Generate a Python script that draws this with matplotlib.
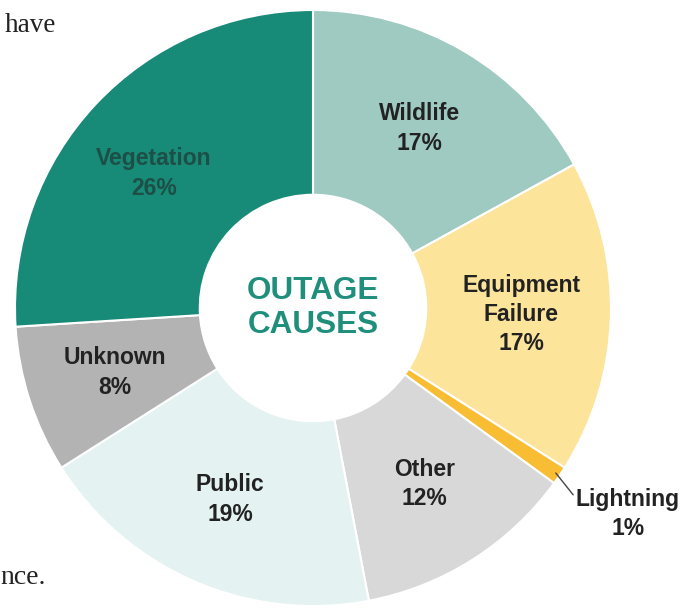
import matplotlib
matplotlib.use('Agg')
import matplotlib.pyplot as plt
import numpy as np

# data (clockwise from the top)
causes = ['Wildlife', 'Equipment\nFailure', 'Lightning', 'Other', 'Public', 'Unknown', 'Vegetation']
shares = [17, 17, 1, 12, 19, 8, 26]
colors = ['#9ecac2', '#fde49b', '#f9bd33', '#d8d8d8', '#e4f2f1', '#b3b3b3', '#178a78']
text_colors = ['#222222', '#222222', '#222222', '#222222', '#222222', '#222222', '#1d4f47']

plt.rcParams['font.family'] = ['Liberation Sans', 'DejaVu Sans']

fig = plt.figure(figsize=(6.91, 6.08), dpi=100)
ax = fig.add_axes([0, 0, 1, 1])

# donut centre at pixel (313, 308), outer radius 298 px
R = 298.0

wedges, _ = ax.pie(shares, colors=colors, startangle=90, counterclock=False,
                   radius=1.0, wedgeprops=dict(width=0.62, edgecolor='white', linewidth=1.5))
ax.set_xlim(-313 / R, (691 - 313) / R)
ax.set_ylim(-(608 - 308) / R, 308 / R)
ax.set_aspect('auto')
ax.axis('off')

total = sum(shares)
cum = 0
for name, val, tc in zip(causes, shares, text_colors):
    mid = 90 - 360 * (cum + val / 2) / total
    cum += val
    label = f'{name}\n{val}%'
    if name == 'Lightning':
        m = np.deg2rad(mid)
        ax.annotate(label, xy=(0.985 * np.cos(m), 0.985 * np.sin(m)),
                    xytext=(315 / R, -206 / R), ha='center', va='center',
                    fontsize=16.5, fontweight='bold', color=tc, linespacing=1.35,
                    arrowprops=dict(arrowstyle='-', color='#444444', lw=1,
                                    shrinkA=0, shrinkB=0, relpos=(0.0, 0.8)))
        continue
    r = 0.70
    if name == 'Vegetation':
        mid += 3   # label sits a little lower in the wedge
    m = np.deg2rad(mid)
    ax.text(r * np.cos(m), r * np.sin(m), label, ha='center', va='center',
            fontsize=16.5, fontweight='bold', color=tc, linespacing=1.35)

ax.text(0, 0, 'OUTAGE\nCAUSES', ha='center', va='center', fontsize=22.7,
        fontweight='bold', color='#1f8f7c', linespacing=1.2)

# scraps of the page text around the graphic
fig.text(5 / 691, 1 - 25 / 608, 'have', ha='left', va='center',
         fontsize=19.5, family='Liberation Serif', color='#222222')
fig.text(0 / 691, 1 - 577 / 608, 'nce.', ha='left', va='center',
         fontsize=20, family='Liberation Serif', color='#222222')

fig.savefig('out.png', dpi=100)
